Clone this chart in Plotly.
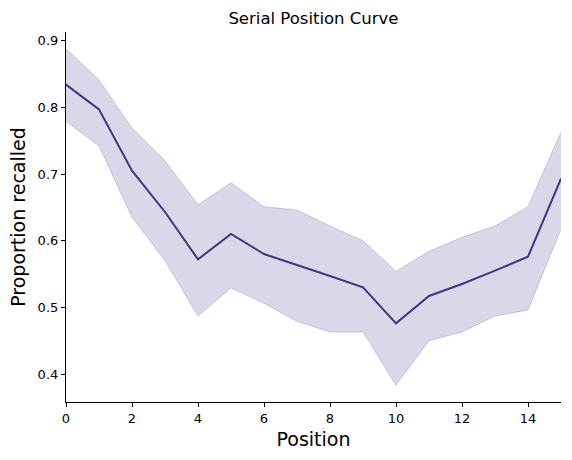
import plotly.graph_objects as go

positions = list(range(16))
mean_recall = [0.834, 0.797, 0.705, 0.643, 0.572, 0.610, 0.580, 0.564, 0.547, 0.530,
               0.476, 0.517, 0.535, 0.555, 0.576, 0.693]
upper_ci = [0.888, 0.841, 0.769, 0.720, 0.654, 0.687, 0.651, 0.646, 0.622, 0.600,
            0.554, 0.584, 0.605, 0.622, 0.651, 0.763]
lower_ci = [0.779, 0.742, 0.635, 0.570, 0.487, 0.529, 0.506, 0.479, 0.463, 0.463,
            0.383, 0.450, 0.463, 0.487, 0.496, 0.617]

line_color = "#41357f"
fill_color = "rgba(72,61,139,0.2)"
edge_color = "rgba(72,61,139,0.22)"

fig = go.Figure()
fig.add_trace(go.Scatter(x=positions, y=lower_ci, mode="lines",
                         line=dict(color=edge_color, width=1), showlegend=False,
                         hoverinfo="skip"))
fig.add_trace(go.Scatter(x=positions, y=upper_ci, mode="lines", fill="tonexty",
                         fillcolor=fill_color,
                         line=dict(color=edge_color, width=1), showlegend=False,
                         hoverinfo="skip"))
fig.add_trace(go.Scatter(x=positions, y=mean_recall, mode="lines",
                         line=dict(color=line_color, width=2), showlegend=False))

axis_common = dict(showgrid=False, zeroline=False, showline=True, linecolor="black",
                   linewidth=1.2, ticks="outside", ticklen=4, tickwidth=1.2,
                   tickcolor="black", mirror=False,
                   tickfont=dict(family="DejaVu Sans", size=13, color="black"))

fig.update_layout(
    width=572, height=460,
    margin=dict(l=66, r=11, t=32, b=58),
    paper_bgcolor="white", plot_bgcolor="white",
    title=dict(text="Serial Position Curve", x=0.548, xanchor="center",
               y=0.961, yanchor="middle",
               font=dict(family="DejaVu Sans", size=16.5, color="black")),
    xaxis=dict(range=[0, 15], tickvals=[0, 2, 4, 6, 8, 10, 12, 14],
               title=dict(text="Position", standoff=7,
                          font=dict(family="DejaVu Sans", size=19, color="black")),
               **axis_common),
    yaxis=dict(range=[0.358, 0.913], tickvals=[0.4, 0.5, 0.6, 0.7, 0.8, 0.9],
               tickformat=".1f",
               title=dict(text="Proportion recalled", standoff=6,
                          font=dict(family="DejaVu Sans", size=19, color="black")),
               **axis_common),
)

fig.write_html("out.html")
